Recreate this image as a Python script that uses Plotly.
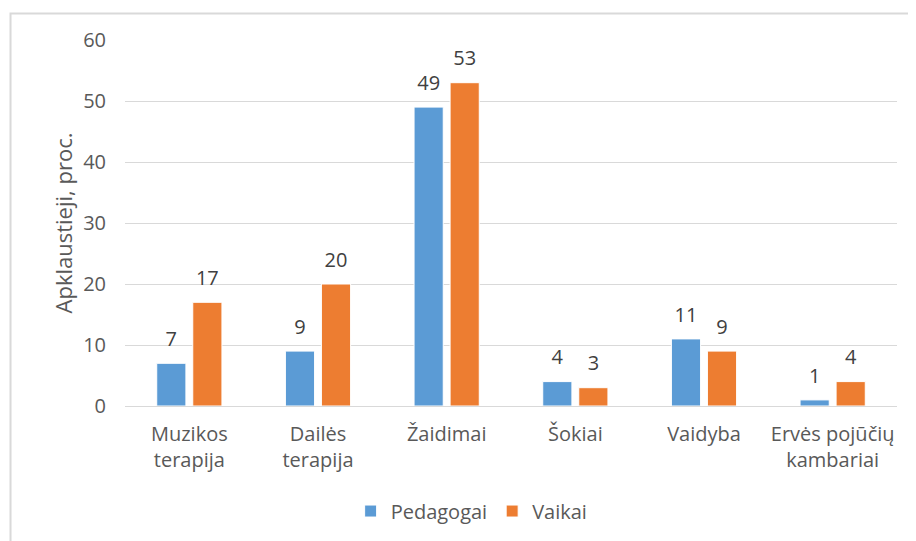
import plotly.graph_objects as go

categories = ["Muzikos<br>terapija", "Dailės<br>terapija", "Žaidimai", "Šokiai", "Vaidyba", "Ervės pojūčių<br>kambariai"]
pedagogai = [7, 9, 49, 4, 11, 1]
vaikai = [17, 20, 53, 3, 9, 4]
y_ticks = [0, 10, 20, 30, 40, 50, 60]

FONT = "Open Sans"
GRAY = "#595959"
FS = 20

fig = go.Figure()
for name, vals, col in [("Pedagogai", pedagogai, "#5B9BD5"), ("Vaikai", vaikai, "#ED7D31")]:
    fig.add_trace(go.Bar(
        x=categories, y=vals, name=name,
        marker=dict(color=col, line=dict(color="white", width=1)),
    ))
for name, vals in [("Pedagogai", pedagogai), ("Vaikai", vaikai)]:
    fig.add_trace(go.Scatter(
        x=categories, y=vals, name=name, showlegend=False, orientation="v",
        mode="markers+text", text=vals, textposition="top center",
        marker=dict(size=18, opacity=0), cliponaxis=False, hoverinfo="skip",
        textfont=dict(family=FONT, size=FS, color="#404040"),
    ))

fig.update_layout(
    width=916, height=541,
    margin=dict(l=117, r=27, t=32, b=143),
    paper_bgcolor="white", plot_bgcolor="white",
    font=dict(family=FONT, size=FS, color=GRAY),
    barmode="group", bargap=0.44, bargroupgap=0.19,
    scattermode="group", scattergap=0.44,
    showlegend=True,
    legend=dict(orientation="h", x=0.449, xanchor="center", y=-0.287, yanchor="middle",
                font=dict(family=FONT, size=FS, color=GRAY), itemwidth=30,
                traceorder="normal"),
    shapes=[dict(type="rect", xref="paper", yref="paper",
                 x0=-0.1483, x1=1.2, y0=-0.6, y1=1.0724,
                 line=dict(color="#d9d9d9", width=2), fillcolor="rgba(0,0,0,0)", layer="below")],
)
fig.update_xaxes(
    showline=True, linecolor="#d9d9d9", linewidth=1,
    ticks="", tickfont=dict(family=FONT, size=FS, color=GRAY),
    ticklabelstandoff=10,
)
fig.update_yaxes(
    range=[0, 60], tickvals=y_ticks, showgrid=True, gridcolor="#d9d9d9", gridwidth=1,
    zeroline=False, showline=False, ticks="",
    tickfont=dict(family=FONT, size=FS, color=GRAY), ticklabelstandoff=18,
    title=dict(text="Apklaustieji, proc.", font=dict(family=FONT, size=22, color=GRAY), standoff=4),
)

fig.write_html("out.html")
